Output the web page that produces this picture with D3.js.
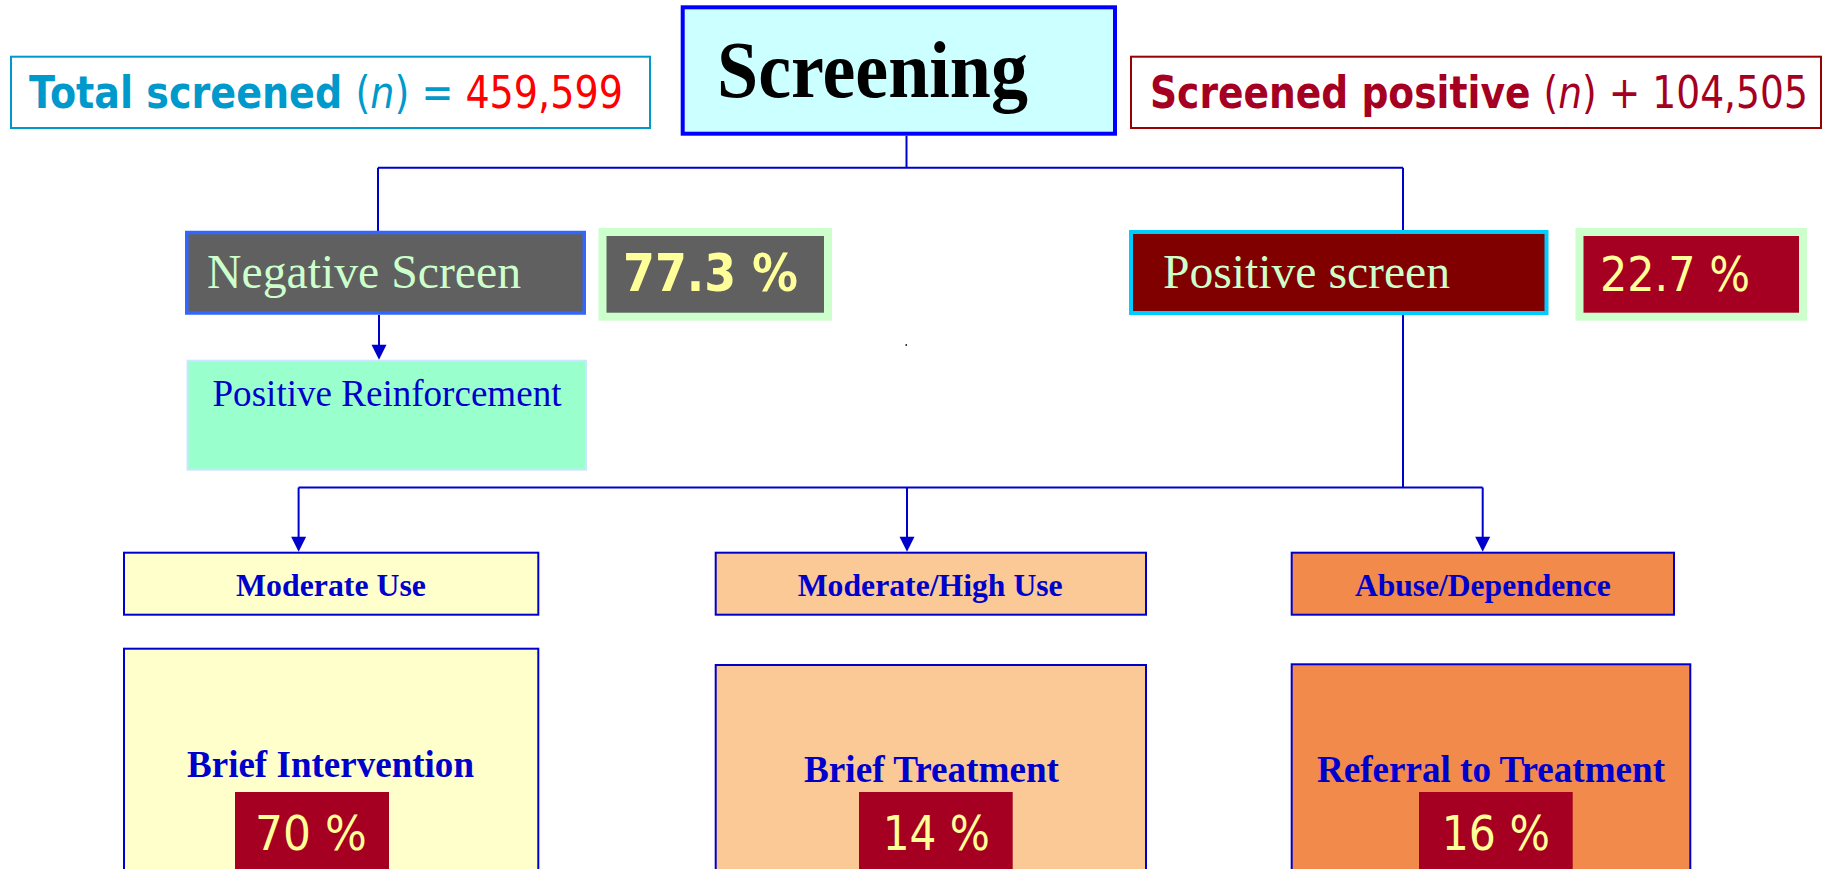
<!DOCTYPE html>
<html>
<head>
<meta charset="utf-8">
<script src="https://cdn.jsdelivr.net/npm/d3@7"></script>
<style>
  html, body { margin: 0; padding: 0; background: #ffffff; }
  svg { display: block; }
</style>
</head>
<body>
<svg id="chart" width="1831" height="869"></svg>
<script>
// ---------------- DATA ----------------
const titleLabel = "Screening";
const countLabels = ["Total screened", "Screened positive"];
const countOperators = ["=", "+"];
const countValues = [459599, 104505];
const screenLabels = ["Negative Screen", "Positive screen"];
const screenPercents = [77.3, 22.7];
const negativeFollowUp = ["Positive Reinforcement"];
const useLevels = ["Moderate Use", "Moderate/High Use", "Abuse/Dependence"];
const interventions = ["Brief Intervention", "Brief Treatment", "Referral to Treatment"];
const interventionPercents = [70, 14, 16];

// ---------------- LAYOUT (positions / styles) ----------------
const svg = d3.select("#chart");
const fmtCount = d3.format(",");
const fmtPct = d => d3.format(".1f")(d) + " %";
const fmtPctInt = d => d + " %";
const BLUE = "#0000cc";
const serif = "'Liberation Serif','Times New Roman',serif";
const sans = "'DejaVu Sans',Verdana,sans-serif";

function fitText(sel, width) {
  sel.each(function () {
    const w = this.getComputedTextLength();
    if (w > 0) d3.select(this).attr("textLength", width).attr("lengthAdjust", "spacingAndGlyphs");
  });
}

// Header count boxes
const countLayout = [
  { x: 11, y: 56.7, w: 639, h: 71.3, stroke: "#0099cc", color: "#0099cc", num: "#ff0000", tx: 29, tw: 594 },
  { x: 1131, y: 56.7, w: 690, h: 71.3, stroke: "#990000", color: "#a50021", num: "#a50021", tx: 1150, tw: 658 }
];
countLabels.forEach((lab, i) => {
  const L = countLayout[i];
  svg.append("rect").attr("x", L.x).attr("y", L.y).attr("width", L.w).attr("height", L.h)
    .attr("fill", "#ffffff").attr("stroke", L.stroke).attr("stroke-width", 2);
  const g = svg.append("g");
  const t = g.append("text").attr("x", 0).attr("y", 0)
    .attr("font-family", sans).attr("font-size", 44).attr("fill", L.color);
  t.append("tspan").attr("font-weight", "bold").text(lab + " ");
  t.append("tspan").text("(");
  t.append("tspan").attr("font-style", "italic").text("n");
  t.append("tspan").text(") " + countOperators[i] + " ");
  t.append("tspan").attr("fill", L.num).text(fmtCount(countValues[i]));
  const w = t.node().getComputedTextLength();
  g.attr("transform", `translate(${L.tx},108) scale(${L.tw / w},1)`);
});

// Title box
svg.append("rect").attr("x", 682.7).attr("y", 7.3).attr("width", 432.3).attr("height", 126.4)
  .attr("fill", "#ccffff").attr("stroke", "#0000ff").attr("stroke-width", 4);
svg.append("text").attr("x", 717).attr("y", 97).attr("font-family", serif).attr("font-weight", "bold")
  .attr("font-size", 80).attr("fill", "#000000").text(titleLabel).call(fitText, 311);

// Connectors
const lines = [
  [[906.5, 135.7], [906.5, 167.7]],
  [[378, 167.7], [1403, 167.7]],
  [[378, 167.7], [378, 231]],
  [[1403, 167.7], [1403, 230]],
  [[1403, 315], [1403, 487.5]],
  [[298.6, 487.5], [1482.7, 487.5]]
];
const lineGen = d3.line();
svg.selectAll("path.conn").data(lines).join("path").attr("class", "conn")
  .attr("d", lineGen).attr("fill", "none").attr("stroke", BLUE).attr("stroke-width", 2);

const arrows = [
  { x: 379, y1: 315, y2: 359.7 },
  { x: 298.6, y1: 487.5, y2: 551.7 },
  { x: 907, y1: 487.5, y2: 551.7 },
  { x: 1482.7, y1: 487.5, y2: 551.7 }
];
svg.selectAll("path.arrowline").data(arrows).join("path").attr("class", "arrowline")
  .attr("d", d => lineGen([[d.x, d.y1], [d.x, d.y2 - 10]]))
  .attr("stroke", BLUE).attr("stroke-width", 2);
svg.selectAll("path.arrowhead").data(arrows).join("path").attr("class", "arrowhead")
  .attr("d", d => `M${d.x - 7.5},${d.y2 - 15} L${d.x + 7.5},${d.y2 - 15} L${d.x},${d.y2} Z`)
  .attr("fill", BLUE);

// tiny stray mark
svg.append("rect").attr("x", 905.5).attr("y", 344).attr("width", 1.5).attr("height", 2).attr("fill", "#333");

// Screen result boxes
const screenLayout = [
  { x: 186.75, y: 232.5, w: 397.5, h: 80.5, fill: "#606060", stroke: "#3366ff", sw: 3.5, tx: 207, ty: 288, tw: 314,
    px: 598.5, pw: 233.5, pfill: "#606060", ptx: 623, ptw: 175, pbold: true },
  { x: 1131, y: 232, w: 415.5, h: 81, fill: "#800000", stroke: "#00ccff", sw: 4, tx: 1163, ty: 288.3, tw: 287,
    px: 1575.5, pw: 231.5, pfill: "#a50021", ptx: 1600, ptw: 150, pbold: false }
];
screenLabels.forEach((lab, i) => {
  const L = screenLayout[i];
  svg.append("rect").attr("x", L.x).attr("y", L.y).attr("width", L.w).attr("height", L.h)
    .attr("fill", L.fill).attr("stroke", L.stroke).attr("stroke-width", L.sw);
  svg.append("text").attr("x", L.tx).attr("y", L.ty).attr("font-family", serif)
    .attr("font-size", 48).attr("fill", "#ccffcc").text(lab).call(fitText, L.tw);
  svg.append("rect").attr("x", L.px).attr("y", 228).attr("width", L.pw).attr("height", 92.7).attr("fill", "#ccffcc");
  svg.append("rect").attr("x", L.px + 8).attr("y", 236).attr("width", L.pw - 16).attr("height", 76.7).attr("fill", L.pfill);
  svg.append("text").attr("x", L.ptx).attr("y", 290.5).attr("font-family", sans)
    .attr("font-weight", L.pbold ? "bold" : "normal").attr("font-size", L.pbold ? 52 : 48)
    .attr("fill", "#ffff99").text(fmtPct(screenPercents[i])).call(fitText, L.ptw);
});

// Negative follow-up box
svg.append("rect").attr("x", 187.5).attr("y", 360.7).attr("width", 398.5).attr("height", 109)
  .attr("fill", "#99ffcc").attr("stroke", "#cce6ff").attr("stroke-width", 2);
svg.append("text").attr("x", 212.5).attr("y", 405.7).attr("font-family", serif).attr("font-size", 37)
  .attr("fill", BLUE).text(negativeFollowUp[0]).call(fitText, 349);

// Use level + intervention columns
const colLayout = [
  { x: 124, w: 414.3, fill: "#ffffcc", utx: 236, utw: 190, iy: 648.7, itx: 187, ity: 777.3, itw: 287, px: 235, pw: 154, ptx: 255, ptw: 111.7 },
  { x: 715.7, w: 430.3, fill: "#fbc996", utx: 797.7, utw: 265, iy: 665, itx: 804, ity: 781.7, itw: 255, px: 859, pw: 153.7, ptx: 882.7, ptw: 107.3 },
  { x: 1291.7, w: 382.3, iw: 398.6, fill: "#f28a4c", utx: 1355, utw: 255.7, iy: 664.3, itx: 1317, ity: 781.7, itw: 348, px: 1419, pw: 153.7, ptx: 1441.7, ptw: 108.3 }
];
useLevels.forEach((lab, i) => {
  const L = colLayout[i];
  svg.append("rect").attr("x", L.x).attr("y", 552.7).attr("width", L.w).attr("height", 62)
    .attr("fill", L.fill).attr("stroke", BLUE).attr("stroke-width", 2);
  svg.append("text").attr("x", L.utx).attr("y", 596).attr("font-family", serif).attr("font-weight", "bold")
    .attr("font-size", 32).attr("fill", BLUE).text(lab).call(fitText, L.utw);
});
interventions.forEach((lab, i) => {
  const L = colLayout[i];
  svg.append("rect").attr("x", L.x).attr("y", L.iy).attr("width", L.iw || L.w).attr("height", 260)
    .attr("fill", L.fill).attr("stroke", BLUE).attr("stroke-width", 2);
  svg.append("text").attr("x", L.itx).attr("y", L.ity).attr("font-family", serif).attr("font-weight", "bold")
    .attr("font-size", 37).attr("fill", BLUE).text(lab).call(fitText, L.itw);
  svg.append("rect").attr("x", L.px).attr("y", 792).attr("width", L.pw).attr("height", 90).attr("fill", "#a50021");
  svg.append("text").attr("x", L.ptx).attr("y", 850).attr("font-family", sans)
    .attr("font-size", 48).attr("fill", "#ffff99").text(fmtPctInt(interventionPercents[i])).call(fitText, L.ptw);
});
</script>
</body>
</html>
